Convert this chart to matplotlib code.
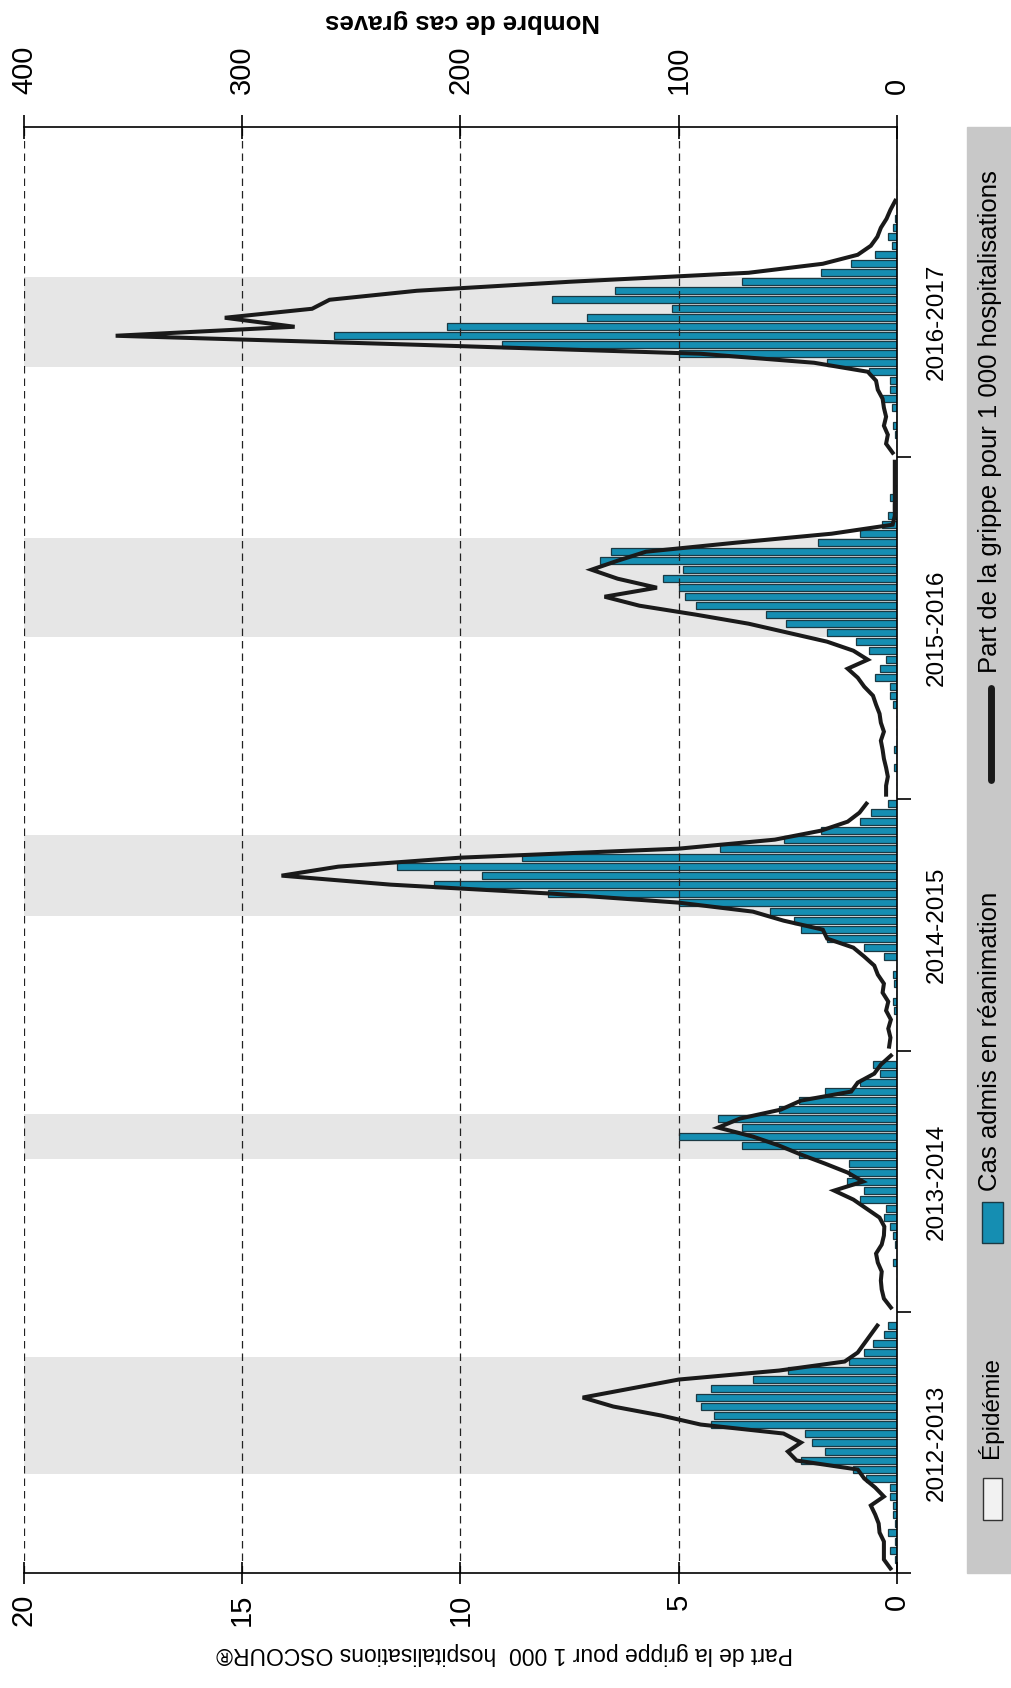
import numpy as np
import matplotlib.pyplot as plt
from matplotlib.patches import Rectangle
from matplotlib.lines import Line2D
from matplotlib.transforms import blended_transform_factory

plt.rcParams['font.family'] = ['Liberation Sans', 'DejaVu Sans']

nan = np.nan

saisons = ['2012-2013', '2013-2014', '2014-2015', '2015-2016', '2016-2017']

# cas graves admis en réanimation, par semaine
cas_2012_13 = [0, 1, 3, 1, 4, 1, 2, 2, 3, 3, 14, 20, 44, 33, 39, 42, 85, 84, 90, 92,
               85, 66, 50, 22, 15, 11, 6, 4, 0]
cas_2013_14 = [0, 0, 0, 0, 0, 2, 0, 1, 2, 3, 6, 5, 17, 15, 23, 22, 22, 45, 71, 100,
               71, 82, 54, 45, 33, 17, 8, 11, 0]
cas_2014_15 = [0, 0, 0, 0, 1.5, 2, 0, 1.5, 2, 0, 6, 15, 32, 44, 47, 58, 100, 160, 212,
               190, 229, 172, 81, 52, 35, 17, 12, 4]
cas_2015_16 = [0, 0, 0, 1.5, 0, 1.5, 0, 0, 0, 0, 2, 3, 3, 10, 8, 5, 13, 19, 32, 51,
               60, 92, 97, 100, 107, 98, 136, 131, 36, 17, 7, 4, 2, 3, 1.5, 0, 0, 0]
cas_2016_17 = [0, 0, 1, 2, 0, 2.4, 7, 3, 3, 13, 32, 100, 181, 258, 206, 142, 103, 158,
               129, 71, 35, 21, 10, 2.4, 4, 2, 1, 0, 0, 0]

# part de la grippe pour 1 000 hospitalisations OSCOUR
part_2012_13 = [0.15, 0.3, 0.3, 0.3, 0.4, 0.42, 0.5, 0.6, 0.3, 0.5, 0.75, 0.9, 2.3, 2.5,
                2.2, 2.6, 4.5, 5.4, 6.5, 7.2, 6.1, 5.0, 2.7, 1.2, 0.9, 0.75, 0.6, 0.45, nan]
part_2013_14 = [0.14, 0.3, 0.35, 0.37, 0.35, 0.44, 0.48, 0.35, 0.3, 0.29, 0.4, 0.7, 1.0,
                1.44, 0.78, 1.13, 1.65, 2.2, 2.7, 3.3, 4.1, 3.6, 2.66, 2.2, 1.05, 0.9,
                0.52, 0.37, 0.14]
part_2014_15 = [0.18, 0.15, 0.2, 0.14, 0.25, 0.2, 0.33, 0.3, 0.44, 0.52, 0.75, 1.0, 1.6,
                1.7, 2.6, 3.3, 5.0, 7.9, 11.6, 14.1, 12.8, 10.0, 5.0, 2.8, 1.74, 1.13,
                0.86, 0.7]
part_2015_16 = [0.25, 0.25, 0.21, 0.25, 0.3, 0.33, 0.37, 0.3, 0.37, 0.4, 0.48, 0.55, 0.75,
                0.9, 1.13, 0.67, 1.0, 1.6, 2.5, 3.4, 4.6, 5.9, 6.7, 5.5, 6.4, 7.0, 6.4,
                5.75, 3.7, 1.5, 0.1, 0.05, 0.05, 0.05, 0.05, 0.05, 0.05, 0.05]
part_2016_17 = [0.1, 0.25, 0.21, 0.3, 0.25, 0.3, 0.33, 0.44, 0.48, 0.67, 1.9, 4.5, 11.0,
                17.9, 13.8, 15.4, 13.4, 13.0, 11.0, 7.5, 3.4, 1.7, 0.9, 0.6, 0.45, 0.37,
                0.24, 0.15, 0.04, nan]

# période épidémique : première semaine et durée (en semaines) dans chaque saison
epi_debut = [11, 17, 15, 18, 10]
epi_duree = [13, 5, 9, 11, 10]

cas = [cas_2012_13, cas_2013_14, cas_2014_15, cas_2015_16, cas_2016_17]
part = [part_2012_13, part_2013_14, part_2014_15, part_2015_16, part_2016_17]

BARRE = '#158eb2'
BORD = '#1b3943'
W, H = 1012, 1688

fig = plt.figure(figsize=(W / 100, H / 100), dpi=100)
ax = fig.add_axes([24 / W, 115 / H, 873 / W, 1446 / H])
ax2 = ax.twiny()

trans = blended_transform_factory(ax.transAxes, ax.transData)
debut = 0
bornes = [0]
for k in range(len(saisons)):
    n = len(cas[k])
    y = debut + np.arange(n) + 0.5
    ax.barh(y, cas[k], height=0.74, color=BARRE, edgecolor=BORD, linewidth=0.9)
    ax2.plot(part[k], y, color='#1a1a1a', lw=2.9, solid_joinstyle='miter')
    a = debut + epi_debut[k]
    ax.axhspan(a, a + epi_duree[k], color='#e6e6e6', lw=0, zorder=0)
    ax.text(1.0458, debut + n / 2, saisons[k], transform=trans, rotation=90,
            ha='center', va='center', fontsize=17.5)
    debut += n
    bornes.append(debut)

ax.set_xlim(400, 0)
ax2.set_xlim(20, 0)
ax.set_ylim(0, 160.7)

ax.xaxis.tick_top()
ax.set_xticks([0, 100, 200, 300, 400])
ax.tick_params(axis='x', top=True, bottom=False, labeltop=True, labelbottom=False,
               direction='inout', length=17, width=1.2, pad=15, labelsize=21,
               labelrotation=90)
ax2.xaxis.tick_bottom()
ax2.set_xticks([0, 5, 10, 15, 20])
ax2.tick_params(axis='x', bottom=True, top=False, labelbottom=True, labeltop=False,
                direction='inout', length=16, width=1.2, pad=7, labelsize=21,
                labelrotation=90)

ax.yaxis.tick_right()
ax.set_yticks(bornes[:-1])
ax.set_yticklabels([])
ax.tick_params(axis='y', direction='out', length=10, width=1.2)

ax.grid(axis='x', linestyle=(0, (6, 4)), color='#222222', lw=0.9)
ax.spines['left'].set_visible(False)
ax.spines['bottom'].set_visible(False)
ax.spines['top'].set_linewidth(1.2)
ax.spines['right'].set_linewidth(1.2)
for s in ['top', 'left', 'right']:
    ax2.spines[s].set_visible(False)
ax2.spines['bottom'].set_linewidth(1.2)

fig.text(463 / W, 1 - 21 / H, 'Nombre de cas graves', rotation=180, ha='center',
         va='center', fontsize=18.5, fontweight='bold')
fig.text(505 / W, 1 - 1654 / H, 'Part de la grippe pour 1 000  hospitalisations OSCOUR®',
         rotation=180, ha='center', va='center', fontsize=16.5)

# légende verticale dans la bande grise à droite
fig.patches.append(Rectangle((967 / W, 115 / H), 45 / W, 1446 / H, transform=fig.transFigure,
                             color='#c8c8c8', zorder=0))
fig.patches.append(Rectangle((983 / W, 1 - 1520 / H), 19 / W, 42 / H, transform=fig.transFigure,
                             facecolor='#f2f2f2', edgecolor='#333333', lw=1))
fig.text(990 / W, 1 - 1407 / H, 'Épidémie', rotation=90, ha='center', va='center',
         fontsize=17.5)
fig.patches.append(Rectangle((982 / W, 1 - 1243 / H), 21 / W, 41 / H, transform=fig.transFigure,
                             facecolor=BARRE, edgecolor=BORD, lw=1))
fig.text(990 / W, 1 - 1041 / H, 'Cas admis en réanimation', rotation=90, ha='center',
         va='center', fontsize=18.5)
fig.lines.append(Line2D([991 / W, 991 / W], [1 - 780 / H, 1 - 688 / H], transform=fig.transFigure,
                        color='#1a1a1a', lw=5, solid_capstyle='round'))
fig.text(990 / W, 1 - 422 / H, 'Part de la grippe pour 1 000 hospitalisations', rotation=90,
         ha='center', va='center', fontsize=18.5)

fig.savefig('out.png', dpi=100)
